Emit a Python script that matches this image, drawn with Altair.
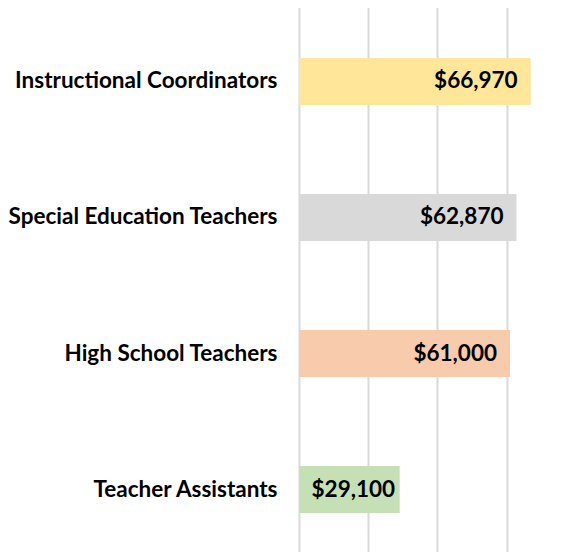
import altair as alt
import pandas as pd

categories = ["Instructional Coordinators", "Special Education Teachers",
              "High School Teachers", "Teacher Assistants"]
values = [66970, 62870, 61000, 29100]
colors = ["#FFE699", "#D9D9D9", "#F8CBAD", "#C5E0B4"]
tick_values = [0, 20000, 40000, 60000]

df = pd.DataFrame({"category": categories, "value": values})

FONT = "Lato"
FSIZE = 22.5

y_enc = alt.Y("category:N", sort=categories,
              scale=alt.Scale(range=[0, 545], paddingInner=0.654, paddingOuter=0.33),
              axis=alt.Axis(title=None, domain=False, ticks=False, labelPadding=22,
                            labelFont=FONT, labelFontSize=FSIZE, labelFontWeight="bold",
                            labelColor="#000000", labelLimit=400))
x_enc = alt.X("value:Q", scale=alt.Scale(domain=[0, 74000], nice=False),
              axis=alt.Axis(title=None, values=tick_values, labels=False, ticks=False,
                            domain=False, grid=True, gridColor="#D9D9D9", gridWidth=2))

base = alt.Chart(df).transform_calculate(
    label="'$' + format(datum.value, ',')",
    half="datum.value / 2",
)

bars = base.mark_bar().encode(
    x=x_enc,
    y=y_enc,
    color=alt.Color("category:N", scale=alt.Scale(domain=categories, range=colors), legend=None),
)

text_end = base.transform_filter("datum.value > 40000").mark_text(
    align="right", baseline="middle", dx=-13, font=FONT, fontSize=FSIZE,
    fontWeight="bold", color="#000000").encode(
    x=alt.X("value:Q"),
    y=alt.Y("category:N", sort=categories),
    text="label:N",
)

text_mid = base.transform_filter("datum.value <= 40000").mark_text(
    align="center", baseline="middle", dx=4, font=FONT, fontSize=FSIZE,
    fontWeight="bold", color="#000000").encode(
    x=alt.X("half:Q"),
    y=alt.Y("category:N", sort=categories),
    text="label:N",
)

chart = alt.layer(bars, text_end, text_mid).properties(
    width=256, height=539,
    autosize=alt.AutoSizeParams(type="none"),
    padding={"left": 291, "top": 5, "right": 0, "bottom": 0},
).configure_view(stroke=None)

chart.save("out.html", embed_options={"renderer": "svg", "actions": False})
